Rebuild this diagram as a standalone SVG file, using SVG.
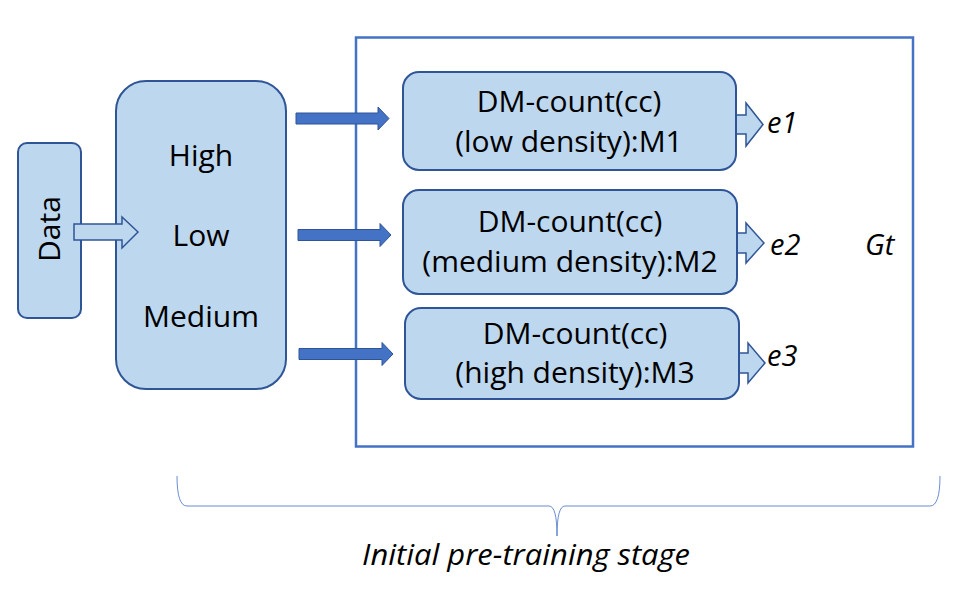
<svg xmlns="http://www.w3.org/2000/svg" width="958" height="589" viewBox="0 0 958 589">
<style>
.box{fill:#BDD7EE;stroke:#2F5597;stroke-width:2}
.t{font-family:"Open Sans","Liberation Sans",sans-serif;font-size:30px;fill:#000;text-anchor:middle}
.it{font-family:"Open Sans","Liberation Sans",sans-serif;font-style:italic;font-size:29px;fill:#000}
.fa{fill:#4472C4;stroke:#2F5597;stroke-width:1}
.ha{fill:#BDD7EE;stroke:#2F5597;stroke-width:1.5}
</style>
<rect width="958" height="589" fill="#fff"/>
<g id="stage">
<rect x="356" y="37.5" width="557" height="409" fill="none" stroke="#4472C4" stroke-width="2.5"/>
<text class="it" x="865" y="255">Gt</text>
</g>
<g id="data">
<rect class="box" x="18" y="143" width="63" height="175" rx="9"/>
<text class="t" font-size="28" transform="translate(60,229) rotate(-90)">Data</text>
</g>
<g id="split">
<rect class="box" x="116" y="81" width="170" height="308" rx="30"/>
<text class="t" x="201" y="166">High</text>
<text class="t" x="201" y="246">Low</text>
<text class="t" x="201" y="327">Medium</text>
</g>
<g id="connectors">
<polygon class="ha" points="74,224 122,224 122,217 138,232 122,248 122,240 74,240"/>
<polygon class="fa" points="296,113 378,113 378,107 389,118.5 378,130 378,124 296,124"/>
<polygon class="fa" points="298,229.5 380,229.5 380,223.5 391,235 380,246.5 380,240.5 298,240.5"/>
<polygon class="fa" points="299,348.5 382,348.5 382,342.5 393,354 382,365.5 382,359.5 299,359.5"/>
<polygon class="ha" points="728,115 746,115 746,103 763,124.5 746,146 746,134 728,134"/>
<polygon class="ha" points="729,233 746,233 746,223 764,243 746,263 746,253 729,253"/>
<polygon class="ha" points="731,353 748,353 748,343 765,363 748,383 748,373 731,373"/>
</g>
<g id="m1">
<rect class="box" x="403" y="72" width="333" height="98" rx="16"/>
<text class="t" x="569" y="112">DM-count(cc)</text>
<text class="t" x="569" y="152">(low density):M1</text>
</g>
<g id="m2">
<rect class="box" x="403" y="190" width="334" height="104" rx="16"/>
<text class="t" x="570" y="232">DM-count(cc)</text>
<text class="t" x="570" y="272">(medium density):M2</text>
</g>
<g id="m3">
<rect class="box" x="405" y="308" width="334" height="91" rx="16"/>
<text class="t" x="575" y="344">DM-count(cc)</text>
<text class="t" x="575" y="383">(high density):M3</text>
</g>
<g id="outputs">
<text class="it" x="767" y="133" font-size="30">e1</text>
<text class="it" x="770" y="255" font-size="30">e2</text>
<text class="it" x="767" y="366" font-size="30">e3</text>
</g>
<g id="brace">
<path d="M177,476 Q177,506 187,506 L549,506 Q557,506 557,536 Q557,506 565,506 L930,506 Q940,506 940,476" fill="none" stroke="#4472C4" stroke-width="1" opacity="0.8"/>
<text class="it" x="362" y="565" font-size="29" textLength="328" lengthAdjust="spacingAndGlyphs">Initial pre-training stage</text>
</g>
</svg>
